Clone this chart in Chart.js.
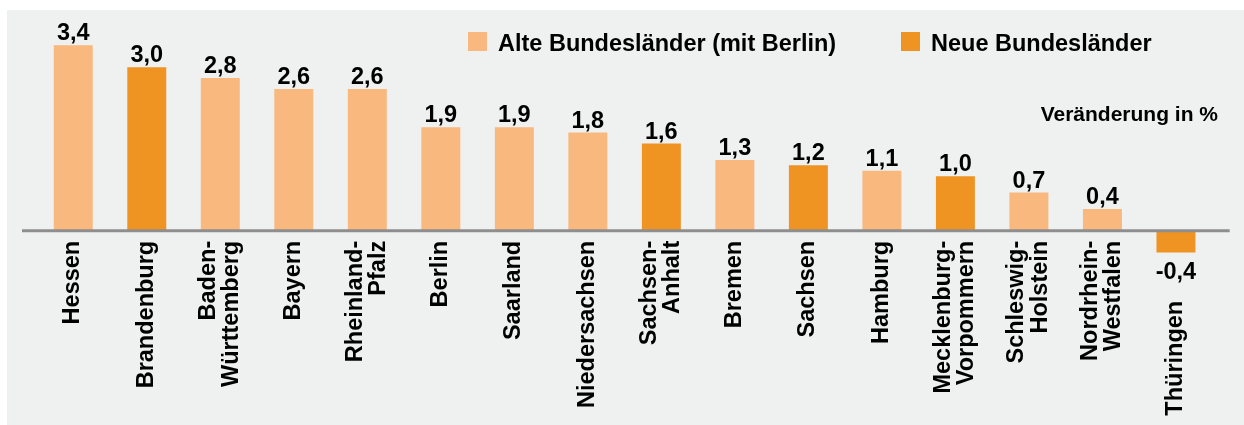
<!DOCTYPE html>
<html>
<head>
<meta charset="utf-8">
<script src="https://cdn.jsdelivr.net/npm/chart.js@4/dist/chart.umd.min.js"></script>
<style>
    html, body { margin: 0; padding: 0; background: #ffffff; }
    #dashboard { width: 1244px; height: 425px; }
</style>
</head>
<body>
<div id="dashboard"><canvas id="myChart" width="1244" height="425"></canvas></div>
<script>
// Bundeslaender, Veraenderung in %
const laender = [
    ['Hessen'], ['Brandenburg'], ['Baden-', 'Württemberg'], ['Bayern'],
    ['Rheinland-', 'Pfalz'], ['Berlin'], ['Saarland'], ['Niedersachsen'],
    ['Sachsen-', 'Anhalt'], ['Bremen'], ['Sachsen'], ['Hamburg'],
    ['Mecklenburg-', 'Vorpommern'], ['Schleswig-', 'Holstein'], ['Nordrhein-', 'Westfalen'], ['Thüringen']
];
const veraenderung = [3.4, 3.0, 2.8, 2.6, 2.6, 1.9, 1.9, 1.8, 1.6, 1.3, 1.2, 1.1, 1.0, 0.7, 0.4, -0.4];
const gruppe = ['alt', 'neu', 'alt', 'alt', 'alt', 'alt', 'alt', 'alt', 'neu', 'alt', 'neu', 'alt', 'neu', 'alt', 'alt', 'neu'];
const legende = ['Alte Bundesländer (mit Berlin)', 'Neue Bundesländer'];
const einheit = 'Veränderung in %';

var farben = { alt: '#f8b87e', neu: '#ef9323' };
var schrift = 'bold 23.5px "Liberation Sans", Arial, sans-serif';

// grey panel behind the chart
var fondo = {
    id: 'fondo',
    beforeDraw: function (chart) {
        var ctx = chart.ctx;
        ctx.save();
        ctx.fillStyle = '#ffffff';
        ctx.fillRect(0, 0, chart.width, chart.height);
        ctx.fillStyle = '#eff0f0';
        ctx.fillRect(7, 10, chart.width - 7, chart.height - 10);
        ctx.restore();
    }
};

// zero line, value labels, category labels, legend
var beschriftung = {
    id: 'beschriftung',
    afterDatasetsDraw: function (chart) {
        var ctx = chart.ctx;
        var area = chart.chartArea;
        var y0 = chart.scales.y.getPixelForValue(0);
        var bars = chart.getDatasetMeta(0).data;

        ctx.save();
        ctx.strokeStyle = '#8e8e8e';
        ctx.lineWidth = 3;
        ctx.beginPath();
        ctx.moveTo(area.left - 14.5, y0);
        ctx.lineTo(area.right + 17, y0);
        ctx.stroke();

        ctx.fillStyle = '#000000';
        ctx.font = schrift;
        ctx.textBaseline = 'alphabetic';

        bars.forEach(function (bar, i) {
            var v = veraenderung[i];
            var txt = v.toFixed(1).replace('.', ',');
            ctx.textAlign = 'center';
            if (v >= 0) {
                ctx.fillText(txt, bar.x, bar.y - 5);
            } else {
                ctx.fillText(txt, bar.x, bar.y + 26);
            }

            // rotated category label, lines right-aligned to the top
            var lines = laender[i];
            var top = v >= 0 ? y0 + 10 : y0 + 70;
            ctx.save();
            ctx.translate(bar.x, top);
            ctx.rotate(-Math.PI / 2);
            ctx.textAlign = 'right';
            lines.forEach(function (line, k) {
                var off = 6 + (k - (lines.length - 1) / 2) * 23.5;
                ctx.fillText(line, 0, off);
            });
            ctx.restore();
        });

        // legend
        ctx.textAlign = 'left';
        var lx = [468, 901];
        legende.forEach(function (name, k) {
            ctx.fillStyle = k === 0 ? farben.alt : farben.neu;
            ctx.fillRect(lx[k], 32, 19, 19);
            ctx.fillStyle = '#000000';
            ctx.fillText(name, lx[k] + 30, 51);
        });

        ctx.font = 'bold 21px "Liberation Sans", Arial, sans-serif';
        ctx.textAlign = 'right';
        ctx.fillText(einheit, 1218, 121);
        ctx.restore();
    }
};

const data = {
    labels: laender.map(function (l) { return l.join(''); }),
    datasets: [{
        label: 'Veränderung in %',
        data: veraenderung,
        backgroundColor: gruppe.map(function (g) { return farben[g]; }),
        borderWidth: 0,
        barPercentage: 0.53,
        categoryPercentage: 1.0
    }]
};

const config = {
    type: 'bar',
    data: data,
    options: {
        responsive: false,
        animation: false,
        devicePixelRatio: 1,
        layout: {
            padding: { left: 36.5, right: 31.3, top: 12.6, bottom: 3.3 }
        },
        plugins: {
            legend: { display: false },
            tooltip: { enabled: false }
        },
        scales: {
            x: { display: false, grid: { display: false } },
            y: { display: false, min: -3.5, max: 4, grid: { display: false } }
        }
    },
    plugins: [fondo, beschriftung]
};

var chart = new Chart(document.getElementById('myChart'), config);
</script>
</body>
</html>
